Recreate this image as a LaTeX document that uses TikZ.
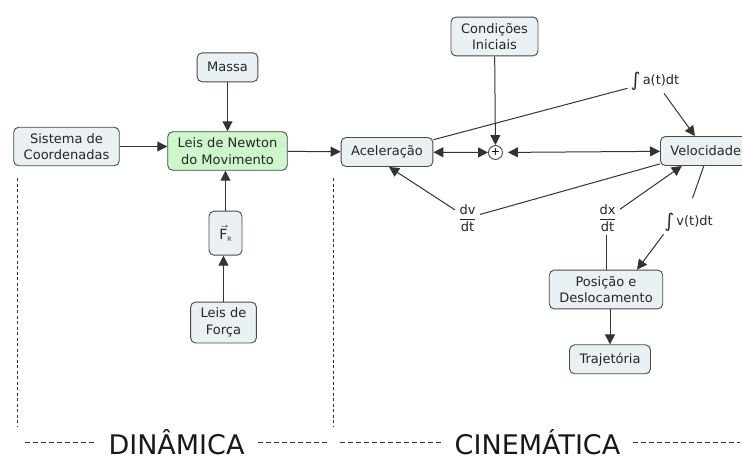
\documentclass[tikz,border=0pt]{standalone}
\usepackage{amsmath}
\usepackage{fontspec}
\setmainfont{DejaVu Sans}
\usetikzlibrary{arrows.meta,positioning}
\definecolor{mapline}{HTML}{333333}
\definecolor{mapedge}{HTML}{4A4A4A}
\definecolor{mapfill}{HTML}{E9F1F4}
\definecolor{mapgreen}{HTML}{CDF6CB}

\begin{document}
\begin{tikzpicture}[
  x=1pt,y=-1pt,
  font=\fontsize{13}{16.5}\selectfont,
  concept/.style={draw=mapedge,line width=0.9pt,rounded corners=5pt,fill=mapfill,align=center,inner xsep=10pt,inner ysep=6pt,minimum height=29pt,text=black!85},
  law/.style={concept,fill=mapgreen},
  lbl/.style={inner sep=3pt,text=black!85},
  link/.style={line width=1pt,draw=mapline},
  arr/.style={link,-{Triangle[length=10pt,width=10pt]}},
  twoway/.style={link,{Triangle[length=10pt,width=10pt]}-{Triangle[length=10pt,width=10pt]}},
  vsep/.style={draw=mapline,line width=0.7pt,dash pattern=on 3pt off 2.5pt},
  hsep/.style={draw=mapline,line width=0.7pt,dash pattern=on 5pt off 3pt},
  area/.style={font=\fontsize{27}{27}\selectfont,inner xsep=13pt,inner ysep=1pt,anchor=base,text=black!90}
]
\useasboundingbox (0,0) rectangle (742,458);

% dinamica
\node[law] (newton) at (227.5,151) {Leis de Newton\\do Movimento};
\node[concept,above=49pt of newton] (massa) {Massa};
\node[concept] (coord) at (66.5,146.5) {Sistema de\\Coordenadas};
\node[concept,below=40pt of newton,xshift=-2pt,minimum width=33pt,minimum height=44pt,inner xsep=4pt] (fres)
  {{\fontsize{14}{14}\selectfont$\vec{\text{F}}$}\raisebox{-2.5pt}{\fontsize{6}{6}\selectfont R}};
\node[concept,below=46pt of fres,xshift=-2pt] (forca) {Leis de\\Força};
\draw[arr] (massa) -- (newton);
\draw[arr] (coord.east) -- (coord.east -| newton.west);
\draw[arr] (forca) -- (forca |- fres.south);
\draw[arr] (fres) -- (fres |- newton.south);

% cinematica
\node[concept] (acel) at (387,152) {Aceleração};
\node[draw=mapedge,line width=0.9pt,circle,inner sep=0pt,minimum size=14pt] (soma) at (495.5,152.5) {\fontsize{11}{11}\selectfont +};
\node[concept] (cond) at (494.5,36.5) {Condições\\Iniciais};
\node[concept,anchor=west] (vel) at (660,151) {Velocidade};
\node[concept] (pos) at (606,289.5) {Posição e\\Deslocamento};
\node[concept,below=35pt of pos,xshift=4pt] (traj) {Trajetória};
\node[lbl] (inta) at (655,81) {\raisebox{-2pt}{\fontsize{19}{19}\selectfont ∫}\,a(t)dt};
\node[lbl] (dv) at (467.5,218) {$\dfrac{\text{dv}}{\text{dt}}$};
\node[lbl] (dx) at (607.5,218) {$\dfrac{\text{dx}}{\text{dt}}$};
\node[lbl] (intv) at (688.5,222) {\raisebox{-2pt}{\fontsize{19}{19}\selectfont ∫}\,v(t)dt};
\draw[arr] (newton) -- (acel);
\draw[arr] (cond) -- (soma);
\draw[twoway] (acel) -- (soma);
\draw[twoway,shorten <=5pt] (soma) -- (vel);
\draw[link] (acel) -- (inta);
\draw[arr] (inta) -- (vel);
\draw[link] (vel) -- (dv);
\draw[arr] (dv) -- ([xshift=2pt]acel.south);
\draw[arr] (dx) -- ([xshift=-24pt]vel.south);
\draw[link] (pos.north) -- (pos.north |- dx.south);
\draw[link,shorten >=12pt] ([xshift=-2pt]vel.south) -- (intv.north);
\draw[arr] ([xshift=-25pt]intv.south) -- ([xshift=31pt]pos.north);
\draw[arr] (pos.south -| traj) -- (traj);

% divisoes
\coordinate (dinL) at (17,178);
\coordinate (dinR) at (333,178);
\draw[vsep] (dinL) -- ++(0,248);
\draw[vsep] (dinR) -- ++(0,248);
\node[area] (din) at (176.5,454) {DINÂMICA};
\node[area] (cin) at (537.5,454) {CINEMÁTICA};
\coordinate (dinA) at (25,442);
\coordinate (dinB) at (328,442);
\coordinate (cinA) at (340,442);
\coordinate (cinB) at (740,442);
\draw[hsep] (dinA) -- (dinA -| din.west);
\draw[hsep] (din.east |- dinB) -- (dinB);
\draw[hsep] (cinA) -- (cinA -| cin.west);
\draw[hsep] (cin.east |- cinB) -- (cinB);
\end{tikzpicture}
\end{document}
